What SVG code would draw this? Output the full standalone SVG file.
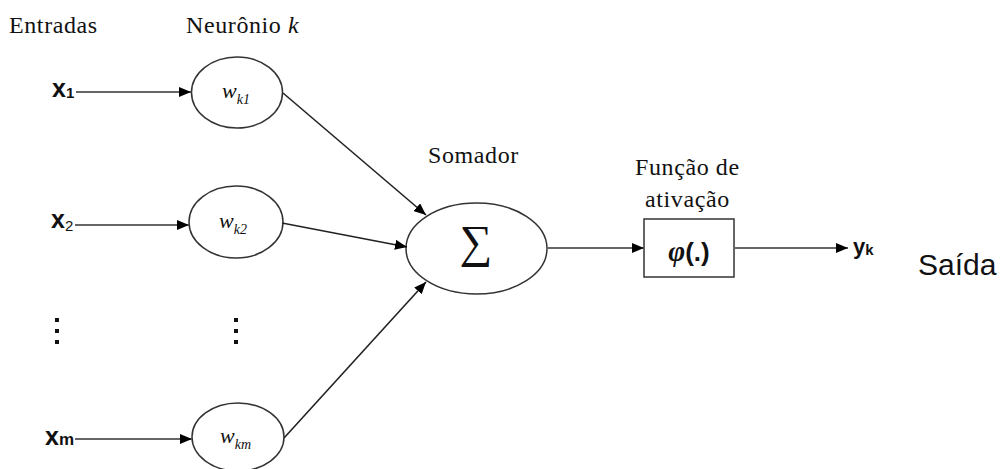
<svg xmlns="http://www.w3.org/2000/svg" width="1003" height="469" viewBox="0 0 1003 469">
<style>
.lbl{font-family:"Liberation Serif","Times New Roman",serif;font-size:24px;letter-spacing:0.6px;fill:#111}
.in{font-family:"Liberation Sans",Arial,sans-serif;font-weight:bold;fill:#111}
.w{font-family:"Liberation Serif","Times New Roman",serif;font-style:italic;fill:#111}
.node{fill:#fff;stroke:#333;stroke-width:1.5}
.h{stroke:#666;stroke-width:2;fill:none}
.d{stroke:#222;stroke-width:1.6;fill:none}
.dot{fill:#111}
</style>
<defs>
<marker id="ah" viewBox="0 0 12 10" refX="12" refY="5" markerWidth="12" markerHeight="10" markerUnits="userSpaceOnUse" orient="auto">
<path d="M0,0 L12,5 L0,10 Z" fill="#000"/>
</marker>
</defs>
<rect width="1003" height="469" fill="#fff"/>
<g id="labels">
<text class="lbl" x="9" y="33">Entradas</text>
<text class="lbl" x="186" y="33">Neurônio <tspan font-style="italic">k</tspan></text>
<text class="lbl" x="428" y="163">Somador</text>
<text class="lbl" x="635" y="175">Função de</text>
<text class="lbl" x="645" y="207" letter-spacing="0">ativação</text>
</g>
<g id="input-x1"><text class="in" x="52" y="97" font-size="25">x<tspan font-size="15" dy="1">1</tspan></text></g>
<g id="input-x2"><text class="in" x="51" y="228" font-size="25">x<tspan font-size="15" font-weight="normal" dy="3">2</tspan></text></g>
<g id="input-xm"><text class="in" x="45" y="445" font-size="25">x<tspan font-size="17" dy="0">m</tspan></text></g>
<g id="dots-inputs"><rect class="dot" x="55" y="318" width="4" height="4"/><rect class="dot" x="55" y="329" width="4" height="4"/><rect class="dot" x="55" y="340" width="4" height="4"/></g>
<g id="dots-weights"><rect class="dot" x="234" y="318" width="4" height="4"/><rect class="dot" x="234" y="329" width="4" height="4"/><rect class="dot" x="234" y="340" width="4" height="4"/></g>
<g id="weight-wk1"><ellipse class="node" cx="237" cy="92.5" rx="45.5" ry="35.5"/><text class="w" x="222" y="98" font-size="22">w<tspan font-size="14" dy="6">k1</tspan></text></g>
<g id="weight-wk2"><ellipse class="node" cx="236" cy="222" rx="47" ry="36"/><text class="w" x="219" y="228" font-size="22">w<tspan font-size="14" dy="6">k2</tspan></text></g>
<g id="weight-wkm"><ellipse class="node" cx="238" cy="437" rx="46" ry="34"/><text class="w" x="220" y="443" font-size="22">w<tspan font-size="14" dy="6">km</tspan></text></g>
<g id="summer"><ellipse class="node" cx="476.5" cy="248.5" rx="70.5" ry="45.5"/><text x="476" y="257" text-anchor="middle" font-family="Liberation Serif,Times New Roman,serif" font-size="46" fill="#111">∑</text></g>
<g id="activation"><rect class="node" x="644" y="219" width="90" height="58"/><text x="689" y="261" text-anchor="middle" font-weight="bold" fill="#111" font-size="26"><tspan font-family="Liberation Serif,serif" font-style="italic" font-size="29">φ</tspan><tspan font-family="Liberation Sans,Arial,sans-serif">(.)</tspan></text></g>
<g id="output"><text class="in" x="853" y="254" font-size="22">y<tspan font-size="15" dy="1">k</tspan></text></g>
<g id="output-label"><text x="918" y="275" font-family="Liberation Sans,Arial,sans-serif" font-size="30" fill="#111">Saída</text></g>
<g id="connectors">
<line class="h" x1="76" y1="92" x2="191" y2="92" marker-end="url(#ah)"/>
<line class="h" x1="75" y1="225" x2="189" y2="225" marker-end="url(#ah)"/>
<line class="h" x1="75" y1="439" x2="192" y2="439" marker-end="url(#ah)"/>
<line class="d" x1="283" y1="93" x2="426" y2="215" marker-end="url(#ah)"/>
<line class="d" x1="282" y1="223" x2="407" y2="247" marker-end="url(#ah)"/>
<line class="d" x1="284" y1="438" x2="426" y2="282" marker-end="url(#ah)"/>
<line class="h" x1="547" y1="248" x2="644" y2="248" marker-end="url(#ah)"/>
<line class="h" x1="734" y1="248" x2="848" y2="248" marker-end="url(#ah)"/>
</g>
</svg>
